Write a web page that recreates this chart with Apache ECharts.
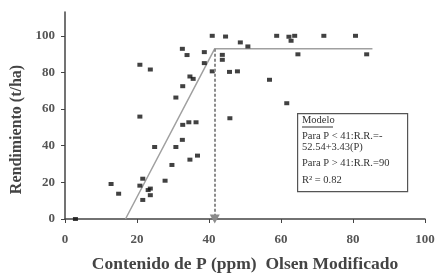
<!DOCTYPE html>
<html>
<head>
<meta charset="utf-8">
<script src="https://cdn.jsdelivr.net/npm/echarts@6/dist/echarts.min.js"></script>
<style>
  html, body { margin: 0; padding: 0; background: #fff; }
  #chart { width: 437px; height: 274px; }
</style>
</head>
<body>
<div id="chart"></div>
<script>
// P Olsen (ppm) vs rendimiento relativo
const pValues = [
  2.9, 12.8, 14.9, 20.8, 21.6, 23.1, 23.7, 23.7, 21.6, 24.9,
  27.8, 30.8, 29.7, 32.6, 34.7, 36.8, 32.7, 34.4, 36.4, 20.8,
  30.8, 32.7, 34.7, 35.6, 20.8, 23.7, 32.6, 33.9, 38.7, 38.7,
  40.9, 40.9, 44.6, 43.7, 43.7, 45.7, 47.9, 45.8, 48.7, 50.8,
  56.8, 58.8, 62.2, 62.8, 63.8, 61.6, 64.7, 71.9, 80.7, 83.8
]
const rendValues = [
  0, 19.1, 13.8, 18.2, 22.0, 15.8, 16.6, 13.0, 10.4, 39.3,
  20.9, 39.3, 29.5, 43.2, 32.4, 34.6, 51.4, 52.8, 52.8, 55.9,
  66.3, 72.5, 77.8, 76.5, 84.2, 81.6, 92.9, 89.5, 91.1, 85.1,
  100, 80.6, 99.6, 89.6, 86.9, 80.3, 80.6, 55.0, 96.4, 94.2,
  76.0, 100, 99.5, 97.3, 100, 63.2, 89.9, 100, 100, 89.9
]
// modelo lineal-meseta (como esta dibujado)
const modeloX = [16.8, 41.6, 85.4]
const modeloY = [0, 93, 93]
const yTicks = [0, 20, 40, 60, 80, 100]

const serif = '"Liberation Serif", "DejaVu Serif", serif'
const chart = echarts.init(document.getElementById('chart'))

chart.setOption({
  animation: false,
  grid: { left: 65, right: 12, top: 12, bottom: 55, outerBoundsMode: 'none' },
  xAxis: {
    type: 'value',
    min: 0,
    max: 100,
    interval: 20,
    name: 'Contenido de P (ppm)  Olsen Modificado',
    nameLocation: 'middle',
    nameGap: 36,
    nameTextStyle: { fontFamily: serif, fontWeight: 'bold', fontSize: 17.5, color: '#444' },
    axisLine: { lineStyle: { color: '#444', width: 1.5 } },
    axisTick: { show: true, length: 4, lineStyle: { color: '#444' } },
    axisLabel: { fontFamily: serif, fontWeight: 'bold', fontSize: 13, color: '#555', margin: 14 },
    splitLine: { show: false }
  },
  yAxis: {
    type: 'value',
    min: 0,
    max: 113,
    name: 'Rendimiento (t/ha)',
    nameLocation: 'middle',
    nameGap: 38,
    nameTextStyle: { fontFamily: serif, fontWeight: 'bold', fontSize: 16, color: '#444', padding: [0, 28, 0, 0] },
    axisLine: { show: true, lineStyle: { color: '#444', width: 1.5 } },
    axisTick: { show: true, length: 4, customValues: yTicks, lineStyle: { color: '#444' } },
    axisLabel: { fontFamily: serif, fontWeight: 'bold', fontSize: 13, color: '#555', margin: 10, customValues: yTicks },
    splitLine: { show: false }
  },
  series: [
    {
      name: 'modelo',
      type: 'line',
      data: modeloX.map((x, i) => [x, modeloY[i]]),
      symbol: 'none',
      lineStyle: { color: '#a0a0a0', width: 1.5 },
      z: 1,
      markLine: {
        silent: true,
        symbol: ['none', 'triangle'],
        symbolSize: [10, 9],
        label: { show: false },
        lineStyle: { color: '#8c8c8c', width: 2, type: [3, 2] },
        data: [[{ coord: [modeloX[1], modeloY[1]] }, { coord: [modeloX[1], 0] }]]
      }
    },
    {
      name: 'datos',
      type: 'scatter',
      data: pValues.map((x, i) => [x, rendValues[i]]),
      symbol: 'rect',
      symbolSize: [5, 4],
      itemStyle: { color: '#111' },
      clip: false,
      z: 3
    }
  ],
  graphic: [
    {
      type: 'rect',
      left: 297,
      top: 113,
      shape: { width: 110, height: 78 },
      style: { fill: '#fff', stroke: '#555', lineWidth: 1.2 }
    },
    {
      type: 'text',
      left: 302,
      top: 115,
      style: { text: 'Modelo', font: '10.5px ' + serif, fill: '#333' }
    },
    {
      type: 'line',
      shape: { x1: 302, y1: 127, x2: 333, y2: 127 },
      style: { stroke: '#333', lineWidth: 1 }
    },
    {
      type: 'text',
      left: 302,
      top: 131,
      style: { text: 'Para P < 41:R.R.=-\n52.54+3.43(P)', font: '10.5px ' + serif, fill: '#333', lineHeight: 11 }
    },
    {
      type: 'text',
      left: 302,
      top: 158,
      style: { text: 'Para P > 41:R.R.=90', font: '10.5px ' + serif, fill: '#333' }
    },
    {
      type: 'text',
      left: 302,
      top: 175,
      style: { text: 'R² = 0.82', font: '10.5px ' + serif, fill: '#333' }
    }
  ]
})
</script>
</body>
</html>
